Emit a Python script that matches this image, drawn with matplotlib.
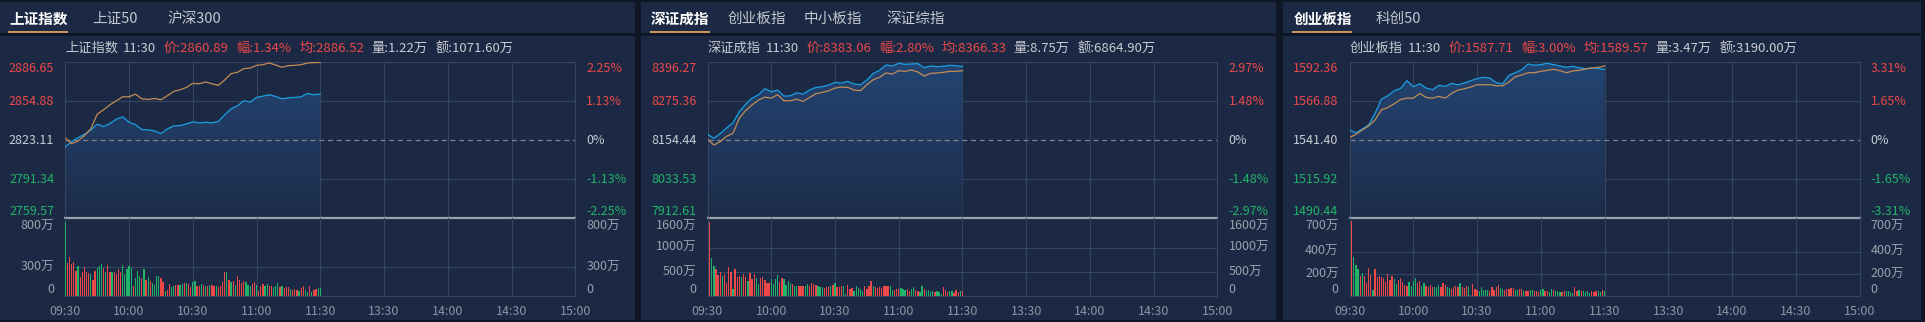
import numpy as np
import matplotlib.pyplot as plt
from matplotlib.patches import Rectangle
from matplotlib.colors import LinearSegmentedColormap

plt.rcParams['font.family'] = ['Noto Sans CJK SC', 'DejaVu Sans']

W, H = 1925, 322

# ---- data ----
minutes = np.arange(0, 121, 3)          # line samples, minutes after 09:30
bar_minutes = np.arange(0, 121)         # one volume bar per minute
time_labels = ['09:30', '10:00', '10:30', '11:00', '11:30', '13:30', '14:00', '14:30', '15:00']

sh_price = [2817.93, 2822.02, 2825.29, 2828.02, 2831.56, 2836.20, 2834.29, 2836.75, 2840.29, 2842.20,
            2837.84, 2835.93, 2831.84, 2831.56, 2830.75, 2828.56, 2832.38, 2834.84, 2835.11, 2836.47,
            2838.11, 2837.29, 2837.84, 2837.29, 2838.38, 2843.84, 2848.74, 2851.20, 2855.29, 2854.20,
            2858.02, 2859.11, 2860.20, 2858.83, 2856.92, 2857.74, 2858.02, 2858.56, 2861.29, 2860.20,
            2860.89]
sh_avg = [2824.75, 2820.38, 2822.56, 2826.93, 2832.38, 2844.38, 2847.93, 2852.02, 2855.29, 2858.56,
          2858.56, 2860.74, 2856.92, 2856.38, 2857.20, 2856.11, 2859.38, 2862.92, 2864.29, 2866.20,
          2869.47, 2869.20, 2870.56, 2869.20, 2867.83, 2872.20, 2877.38, 2878.47, 2881.47, 2882.01,
          2884.19, 2884.74, 2886.10, 2884.47, 2882.56, 2883.92, 2884.19, 2884.74, 2886.10, 2886.38,
          2886.52]
sh_vol = [758, 344, 398, 327, 347, 263, 310, 202, 253, 303,
          253, 243, 229, 169, 263, 286, 310, 327, 293, 253,
          320, 253, 253, 253, 229, 280, 246, 320, 226, 276,
          310, 293, 108, 185, 259, 212, 185, 280, 169, 202,
          158, 135, 118, 209, 212, 185, 142, 51, 67, 128,
          91, 108, 111, 111, 118, 128, 135, 135, 125, 91,
          145, 152, 101, 108, 128, 111, 108, 108, 111, 111,
          108, 101, 94, 101, 142, 253, 253, 169, 148, 158,
          118, 209, 169, 135, 158, 142, 111, 101, 125, 142,
          118, 51, 101, 125, 101, 125, 101, 108, 91, 101,
          135, 91, 108, 84, 94, 94, 78, 67, 74, 67,
          51, 81, 101, 67, 40, 101, 44, 67, 78, 81,
          81]
sh_dir = ("grrrrrgrrr" "rrgrrgggrg" "rrgrrrrggg" "ggrgggrgrg" "rggggrrgrr" "ggrrggrgrr"
          "ggrrgrgrgr" "rgrrrrgrgr" "grrrrgggrr" "grrrggrrgg" "grgrrrgrrr" "grrggrgrrg" "g")

sz_price = [8173.12, 8160.67, 8175.20, 8192.84, 8208.41, 8243.70, 8266.53, 8285.22, 8295.59, 8314.28,
            8304.94, 8310.13, 8291.44, 8292.48, 8301.82, 8297.67, 8310.13, 8318.43, 8320.50, 8325.69,
            8334.00, 8331.92, 8337.11, 8328.81, 8326.73, 8341.26, 8362.02, 8371.36, 8387.97, 8384.85,
            8393.16, 8390.04, 8391.08, 8392.12, 8379.66, 8384.85, 8382.78, 8383.82, 8386.93, 8385.89,
            8383.06]
sz_avg = [8157.55, 8139.91, 8150.29, 8166.89, 8176.24, 8222.94, 8246.81, 8264.46, 8278.99, 8288.33,
          8285.22, 8295.59, 8276.91, 8276.91, 8282.10, 8274.84, 8287.29, 8298.71, 8302.86, 8308.05,
          8316.35, 8319.47, 8318.43, 8310.13, 8308.05, 8326.73, 8342.30, 8349.57, 8363.06, 8359.94,
          8370.32, 8368.25, 8372.40, 8366.17, 8353.72, 8362.02, 8363.06, 8365.13, 8368.25, 8368.25,
          8370.32]
sz_vol = [588, 1521, 791, 629, 554, 439, 493, 426, 453, 270,
          608, 493, 149, 554, 406, 419, 392, 453, 392, 318,
          473, 352, 460, 385, 257, 372, 392, 338, 270, 270,
          352, 250, 352, 439, 291, 372, 352, 237, 324, 270,
          257, 216, 216, 203, 216, 203, 203, 250, 216, 270,
          250, 237, 203, 189, 189, 169, 189, 189, 203, 223,
          270, 189, 183, 216, 203, 47, 237, 149, 169, 101,
          203, 169, 155, 115, 203, 155, 203, 324, 203, 189,
          169, 189, 169, 216, 203, 203, 203, 122, 122, 149,
          149, 169, 155, 122, 149, 108, 155, 183, 122, 115,
          88, 203, 149, 108, 122, 88, 115, 88, 101, 81,
          54, 183, 122, 81, 101, 101, 68, 122, 88, 108,
          101]
sz_dir = ("rrggrrrgrr" "rrgrrrgrrg" "rrrggrrrrr" "ggggrrgggg" "rggrrrggrr" "rrgggrrrgr"
          "grrrggrrrg" "ggggrrrrgr" "rrrrrrggrr" "rgggrrggrr" "ggrggggrgg" "grrrggrrrg" "r")

cy_price = [1548.18, 1546.21, 1548.84, 1551.46, 1559.12, 1568.30, 1570.49, 1573.77, 1575.30, 1580.33,
            1576.39, 1578.36, 1575.52, 1574.43, 1577.27, 1576.61, 1578.58, 1577.71, 1578.80, 1580.33,
            1581.64, 1582.52, 1582.08, 1579.02, 1578.36, 1583.83, 1585.58, 1587.55, 1591.27, 1590.39,
            1590.83, 1591.70, 1590.83, 1589.95, 1589.08, 1589.73, 1588.86, 1588.20, 1588.64, 1588.42,
            1587.71]
cy_avg = [1543.15, 1545.34, 1548.18, 1550.80, 1554.74, 1561.30, 1562.83, 1565.24, 1568.08, 1568.96,
          1568.96, 1572.02, 1569.39, 1568.96, 1570.05, 1568.96, 1572.02, 1574.21, 1575.08, 1576.17,
          1577.71, 1577.71, 1577.71, 1577.05, 1577.05, 1579.46, 1582.95, 1584.05, 1585.58, 1585.58,
          1586.45, 1587.11, 1587.77, 1586.89, 1585.58, 1586.67, 1587.11, 1587.99, 1588.64, 1589.08,
          1589.95]
cy_vol = [244, 676, 353, 285, 241, 185, 212, 185, 118, 256,
          191, 59, 241, 171, 182, 176, 162, 132, 197, 144,
          185, 153, 112, 147, 162, 126, 103, 94, 132, 94,
          138, 162, 118, 141, 94, 118, 88, 82, 97, 82,
          82, 82, 97, 82, 118, 97, 79, 74, 65, 79,
          88, 79, 121, 79, 76, 88, 82, 15, 109, 65,
          53, 44, 82, 56, 56, 53, 44, 79, 59, 79,
          97, 74, 68, 59, 65, 65, 74, 74, 59, 59,
          68, 65, 44, 44, 50, 56, 53, 44, 47, 35,
          59, 68, 44, 44, 35, 65, 53, 44, 47, 38,
          38, 50, 44, 44, 38, 29, 82, 47, 53, 47,
          44, 35, 44, 29, 44, 38, 47, 44, 38, 53,
          44]
cy_dir = ("rrgggrgrrr" "rgrrrrrrrr" "rggrrrrrgg" "ggrrggrrrr" "gggrrrggrr" "rrgrrrggrr"
          "rgggggrrrr" "rggrrrrrgg" "rrgrrggrrr" "ggrrggrggg" "rrggggrrgr" "ggggrrrggr" "g")

sh_levels = [2759.57, 2791.34, 2823.11, 2854.88, 2886.65]
sz_levels = [7912.61, 8033.53, 8154.44, 8275.36, 8396.27]
cy_levels = [1490.44, 1515.92, 1541.40, 1566.88, 1592.36]
sh_pct = ['-2.25%', '-1.13%', '0%', '1.13%', '2.25%']
sz_pct = ['-2.97%', '-1.48%', '0%', '1.48%', '2.97%']
cy_pct = ['-3.31%', '-1.65%', '0%', '1.65%', '3.31%']
sh_vticks = [0, 300, 800]
sz_vticks = [0, 500, 1000, 1600]
cy_vticks = [0, 200, 400, 700]

sh_tabs = ['上证指数', '上证50', '沪深300']
sz_tabs = ['深证成指', '创业板指', '中小板指', '深证综指']
cy_tabs = ['创业板指', '科创50']

sh_info = ['上证指数', '11:30', '价:2860.89', '幅:1.34%', '均:2886.52', '量:1.22万', '额:1071.60万']
sz_info = ['深证成指', '11:30', '价:8383.06', '幅:2.80%', '均:8366.33', '量:8.75万', '额:6864.90万']
cy_info = ['创业板指', '11:30', '价:1587.71', '幅:3.00%', '均:1589.57', '量:3.47万', '额:3190.00万']

# ---- styling ----
DARK = '#0f1727'
BG = '#1c2944'
GRID = '#36455f'
SEP = '#9aa2b1'
RED = '#ec4848'
GREEN = '#1fb46a'
NEUTRAL = '#c8ccd3'
AXTXT = '#9aa1ad'
BLUE = '#1aa0e2'
GOLD = '#c38c55'
TAB = '#c3c7cf'

fill_cmap = LinearSegmentedColormap.from_list('fill', ['#1d2c49', '#234573'])

panels = [
    dict(box=(0, 635), pl=65.3, tabs=sh_tabs, tab_x=[9, 92, 167], ul=(8, 68), info=sh_info,
         price=sh_price, avg=sh_avg, vol=sh_vol, dirs=sh_dir, levels=sh_levels, pct=sh_pct, vticks=sh_vticks),
    dict(box=(641, 1276), pl=707.5, tabs=sz_tabs, tab_x=[651, 728, 804, 886], ul=(650, 710), info=sz_info,
         price=sz_price, avg=sz_avg, vol=sz_vol, dirs=sz_dir, levels=sz_levels, pct=sz_pct, vticks=sz_vticks),
    dict(box=(1283, 1921), pl=1349.6, tabs=cy_tabs, tab_x=[1294, 1376], ul=(1292, 1352), info=cy_info,
         price=cy_price, avg=cy_avg, vol=cy_vol, dirs=cy_dir, levels=cy_levels, pct=cy_pct, vticks=cy_vticks),
]

fig = plt.figure(figsize=(W / 100, H / 100), dpi=100, facecolor=DARK)


def fx(x):
    return x / W


def fy(y):
    return 1 - y / H


def rect(x0, y0, x1, y1, color, z=-5):
    fig.patches.append(Rectangle((fx(x0), fy(y1)), (x1 - x0) / W, (y1 - y0) / H,
                                 transform=fig.transFigure, facecolor=color, edgecolor='none', zorder=z))


PLOT_W = 510
TOP, MID, BOT = 62.3, 218.3, 296.3

for p in panels:
    x0, x1 = p['box']
    pl = p['pl']
    rect(x0, 1.5, x1, 33.3, BG)
    rect(x0, 36.0, x1, 320.0, BG)

    # tabs
    for i, (name, tx) in enumerate(zip(p['tabs'], p['tab_x'])):
        fig.text(fx(tx), fy(19), name, ha='left', va='center', fontsize=10.5,
                 color='white' if i == 0 else TAB, fontweight='bold' if i == 0 else 'normal')
    rect(p['ul'][0], 30.6, p['ul'][1], 32.6, '#c8955a', z=-4)

    # price axes
    ax = fig.add_axes([fx(pl), fy(MID), PLOT_W / W, (MID - TOP) / H])
    ax.set_facecolor('none')
    lo, hi = p['levels'][0], p['levels'][-1]
    fill = ax.fill_between(minutes, p['price'], lo, facecolor='none', edgecolor='none')
    grad = np.linspace(0, 1, 256).reshape(-1, 1)
    im = ax.imshow(grad, extent=[0, 120, lo, hi], origin='lower', aspect='auto', cmap=fill_cmap, zorder=1)
    im.set_clip_path(fill.get_paths()[0], transform=ax.transData)
    for m in range(30, 240, 30):
        ax.axvline(m, color=GRID, lw=0.8, zorder=0.5)
    for lv in p['levels'][1:-1]:
        if lv == p['levels'][2]:
            ax.axhline(lv, color='#7f848d', lw=0.9, ls=(0, (4, 3)), zorder=2)
        else:
            ax.axhline(lv, color=GRID, lw=0.8, zorder=0.5)
    ax.plot(minutes, p['price'], color=BLUE, lw=0.9, zorder=3)
    ax.plot(minutes, p['avg'], color=GOLD, lw=0.9, zorder=4)
    ax.set_xlim(0, 240)
    ax.set_ylim(lo, hi)
    ax.set_xticks([])
    ax.set_yticks([])
    for s in ('top', 'left', 'right'):
        ax.spines[s].set_color(GRID)
        ax.spines[s].set_linewidth(0.8)
    ax.spines['bottom'].set_color(SEP)
    ax.spines['bottom'].set_linewidth(1.6)
    ax.spines['bottom'].set_zorder(5)

    # price labels
    ytr = ax.get_yaxis_transform()
    cols = [GREEN, GREEN, NEUTRAL, RED, RED]
    vas = ['bottom', 'center', 'center', 'center', 'top']
    for lv, pc, c, va in zip(p['levels'], p['pct'], cols, vas):
        ax.text(-11 / PLOT_W, lv, f'{lv:.2f}', transform=ytr, ha='right', va=va, color=c, fontsize=9)
        ax.text(1 + 11 / PLOT_W, lv, pc, transform=ytr, ha='left', va=va, color=c, fontsize=9)

    # info line
    t = fig.text(fx(pl), fy(48.3), p['info'][0], ha='left', va='center', fontsize=9.5, color=NEUTRAL)
    icol = [NEUTRAL, RED, RED, RED, NEUTRAL, NEUTRAL]
    for k, (s, c) in enumerate(zip(p['info'][1:], icol)):
        t = ax.annotate(s, xy=(1, 0.5), xycoords=t, xytext=(3.5 if k == 0 else 5.5, 0),
                        textcoords='offset points', ha='left', va='center', fontsize=9.5,
                        color=c, annotation_clip=False)

    # volume axes
    av = fig.add_axes([fx(pl), fy(BOT), PLOT_W / W, (BOT - MID) / H])
    av.set_facecolor('none')
    vmax = p['vticks'][-1]
    colors = [RED if d == 'r' else GREEN for d in p['dirs']]
    av.bar(bar_minutes, p['vol'], width=0.6, color=colors, zorder=3)
    for m in range(30, 240, 30):
        av.axvline(m, color=GRID, lw=0.8, zorder=0.5)
    for v in p['vticks'][1:-1]:
        av.axhline(v, color=GRID, lw=0.8, zorder=0.5)
    av.set_xlim(0, 240)
    av.set_ylim(0, vmax)
    av.set_yticks([])
    av.set_xticks(range(0, 241, 30), time_labels)
    av.tick_params(axis='x', length=0, pad=6, labelsize=9, labelcolor='#8d95a2')
    av.spines['top'].set_visible(False)
    for s in ('bottom', 'left', 'right'):
        av.spines[s].set_color(GRID)
        av.spines[s].set_linewidth(0.8)
    vtr = av.get_yaxis_transform()
    for v in p['vticks']:
        lab = '0' if v == 0 else f'{v}万'
        va = 'bottom' if v == 0 else ('top' if v == vmax else 'center')
        yv = v if v != vmax else vmax * 0.985
        av.text(-11 / PLOT_W, yv, lab, transform=vtr, ha='right', va=va, color=AXTXT, fontsize=9)
        av.text(1 + 11 / PLOT_W, yv, lab, transform=vtr, ha='left', va=va, color=AXTXT, fontsize=9)

fig.savefig('out.png', dpi=100, facecolor=DARK)
